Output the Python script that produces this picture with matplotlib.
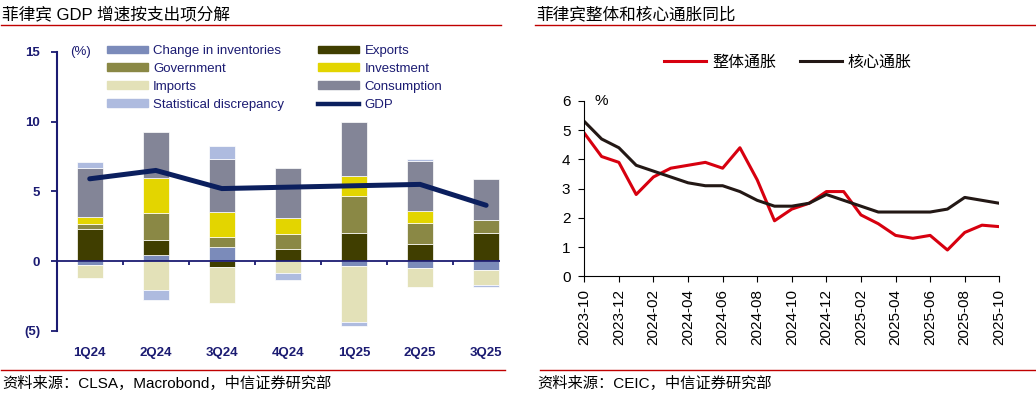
import matplotlib
matplotlib.use('Agg')
import matplotlib.pyplot as plt
import matplotlib.patches as mpatches
from matplotlib.lines import Line2D
import numpy as np

plt.rcParams['font.family'] = ['Liberation Sans', 'Noto Sans CJK SC']

# ---------------- data: GDP contribution by expenditure ----------------
quarters = ['1Q24', '2Q24', '3Q24', '4Q24', '1Q25', '2Q25', '3Q25']
inventories = [-0.31, 0.43, 1.03, 0.0, -0.36, -0.53, -0.67]
exports = [2.27, 1.05, -0.41, 0.89, 2.01, 1.24, 2.01]
government = [0.36, 1.94, 0.72, 1.07, 2.66, 1.49, 0.91]
investment = [0.53, 2.56, 1.74, 1.13, 1.43, 0.86, 0.0]
imports = [-0.89, -2.08, -2.58, -0.89, -4.02, -1.31, -1.05]
consumption = [3.51, 3.30, 3.81, 3.56, 3.90, 3.61, 2.94]
stat_disc = [0.41, -0.74, 0.95, -0.50, -0.26, 0.14, -0.15]
gdp = [5.9, 6.5, 5.2, 5.3, 5.4, 5.5, 4.0]

# ---------------- data: inflation ----------------
months = ['2023-10', '2023-11', '2023-12', '2024-01', '2024-02', '2024-03', '2024-04',
          '2024-05', '2024-06', '2024-07', '2024-08', '2024-09', '2024-10', '2024-11',
          '2024-12', '2025-01', '2025-02', '2025-03', '2025-04', '2025-05', '2025-06',
          '2025-07', '2025-08', '2025-09', '2025-10']
headline = [4.9, 4.1, 3.9, 2.8, 3.4, 3.7, 3.8, 3.9, 3.7, 4.4, 3.3, 1.9, 2.3, 2.5,
            2.9, 2.9, 2.1, 1.8, 1.4, 1.3, 1.4, 0.9, 1.5, 1.75, 1.7]
core = [5.3, 4.7, 4.4, 3.8, 3.6, 3.4, 3.2, 3.1, 3.1, 2.9, 2.6, 2.4, 2.4, 2.5,
        2.8, 2.6, 2.4, 2.2, 2.2, 2.2, 2.2, 2.3, 2.7, 2.6, 2.5]

NAVY = '#0B1F5E'
AXNAVY = '#1B1B72'
RED_RULE = '#C00000'
C_INV = '#7B8BBA'
C_EXP = '#403E00'
C_GOV = '#8A8845'
C_INVEST = '#E3D500'
C_IMP = '#E3E1B8'
C_CONS = '#838597'
C_SD = '#AEBBDF'

W, H = 1036, 393
fig = plt.figure(figsize=(W / 100, H / 100), dpi=100)


def fx(px):
    return px / W


def fy(py):
    return 1 - py / H


# ---------------- titles, rules, sources ----------------
fig.text(fx(2), fy(14), '菲律宾 GDP 增速按支出项分解', fontsize=12, va='center', ha='left')
fig.text(fx(536), fy(14), '菲律宾整体和核心通胀同比', fontsize=12, va='center', ha='left')
fig.add_artist(Line2D([fx(1), fx(501)], [fy(25), fy(25)], color=RED_RULE, lw=1.0))
fig.add_artist(Line2D([fx(535), fx(1035)], [fy(25), fy(25)], color=RED_RULE, lw=1.0))
fig.add_artist(Line2D([fx(1), fx(505)], [fy(370), fy(370)], color=RED_RULE, lw=1.0))
fig.add_artist(Line2D([fx(540), fx(1035)], [fy(370), fy(370)], color=RED_RULE, lw=1.0))
fig.text(fx(2), fy(383), '资料来源：CLSA，Macrobond，中信证券研究部', fontsize=11, va='center', ha='left')
fig.text(fx(537), fy(383), '资料来源：CEIC，中信证券研究部', fontsize=11, va='center', ha='left')

# ---------------- left: stacked bars ----------------
ax1 = fig.add_axes([fx(56.7), fy(330.7), fx(500 - 56.7), (330.7 - 52) / H])
x = np.arange(len(quarters))
width = 0.39
series = [
    ('Change in inventories', inventories, C_INV),
    ('Exports', exports, C_EXP),
    ('Government', government, C_GOV),
    ('Investment', investment, C_INVEST),
    ('Imports', imports, C_IMP),
    ('Consumption', consumption, C_CONS),
    ('Statistical discrepancy', stat_disc, C_SD),
]
pos_base = np.zeros(len(quarters))
neg_base = np.zeros(len(quarters))
for name, vals, col in series:
    v = np.array(vals, dtype=float)
    bottom = np.where(v >= 0, pos_base, neg_base)
    ax1.bar(x, v, width, bottom=bottom, color=col, edgecolor='white', linewidth=0.5, zorder=2)
    pos_base = pos_base + np.where(v >= 0, v, 0)
    neg_base = neg_base + np.where(v < 0, v, 0)

ax1.plot(x, gdp, color=NAVY, lw=3.6, solid_capstyle='round', solid_joinstyle='miter', zorder=4)
ax1.axhline(0, color=AXNAVY, lw=1.3, zorder=3)
ax1.vlines(x[:-1] + 0.5, -0.25, 0, color=AXNAVY, lw=1.3, zorder=3)

ax1.set_xlim(-0.5, 6.21)
ax1.set_ylim(-5, 15)
ax1.set_yticks([-5, 0, 5, 10, 15])
ax1.set_yticklabels(['(5)', '0', '5', '10', '15'])
ax1.set_xticks(x)
ax1.set_xticklabels(quarters)
for s in ['top', 'right', 'bottom']:
    ax1.spines[s].set_visible(False)
ax1.spines['left'].set_color(AXNAVY)
ax1.spines['left'].set_linewidth(1.5)
ax1.tick_params(axis='y', colors=AXNAVY, length=4, width=1.3, labelsize=9.5, pad=8)
ax1.tick_params(axis='x', length=0, labelsize=9.5, colors=AXNAVY, pad=12)
for lab in ax1.get_yticklabels() + ax1.get_xticklabels():
    lab.set_fontweight('bold')
    lab.set_color(AXNAVY)
ax1.text(-0.3, 15, '(%)', fontsize=9.5, color=AXNAVY, va='center', ha='left')

handles = [
    mpatches.Patch(color=C_INV, label='Change in inventories'),
    mpatches.Patch(color=C_GOV, label='Government'),
    mpatches.Patch(color=C_IMP, label='Imports'),
    mpatches.Patch(color=C_SD, label='Statistical discrepancy'),
    mpatches.Patch(color=C_EXP, label='Exports'),
    mpatches.Patch(color=C_INVEST, label='Investment'),
    mpatches.Patch(color=C_CONS, label='Consumption'),
    Line2D([0], [0], color=NAVY, lw=3.2, label='GDP'),
]
leg1 = fig.legend(handles=handles, ncol=2, loc='upper left',
                  bbox_to_anchor=(fx(107), fy(45)), frameon=False,
                  fontsize=9.5, handlelength=3.1, handleheight=0.5,
                  handletextpad=0.4, columnspacing=2.6, labelspacing=0.45,
                  borderpad=0, borderaxespad=0)
for t in leg1.get_texts():
    t.set_color(AXNAVY)

# ---------------- right: inflation lines ----------------
ax2 = fig.add_axes([fx(584.3), fy(276.3), fx(999.3 - 584.3), (276.3 - 101) / H])
t = np.arange(len(months))
ax2.plot(t, headline, color='#D7000F', lw=2.2, label='整体通胀')
ax2.plot(t, core, color='#231815', lw=2.2, label='核心通胀')
ax2.set_xlim(0, len(months) - 1)
ax2.set_ylim(0, 6)
ax2.set_yticks(range(0, 7))
ax2.set_xticks(t[::2])
ax2.set_xticklabels(months[::2], rotation=90)
for s in ['top', 'right']:
    ax2.spines[s].set_visible(False)
ax2.tick_params(axis='y', labelsize=11, length=4, pad=6)
ax2.tick_params(axis='x', labelsize=11, length=4, pad=5)
ax2.text(0.6, 6, '%', fontsize=11, va='center', ha='left')
fig.legend(handles=ax2.get_lines(), loc='center', ncol=2,
           bbox_to_anchor=(fx(788), fy(62)), frameon=False, fontsize=11.5,
           handlelength=2.6, handletextpad=0.4, columnspacing=1.5)

fig.savefig('out.png', dpi=100, facecolor='white')
